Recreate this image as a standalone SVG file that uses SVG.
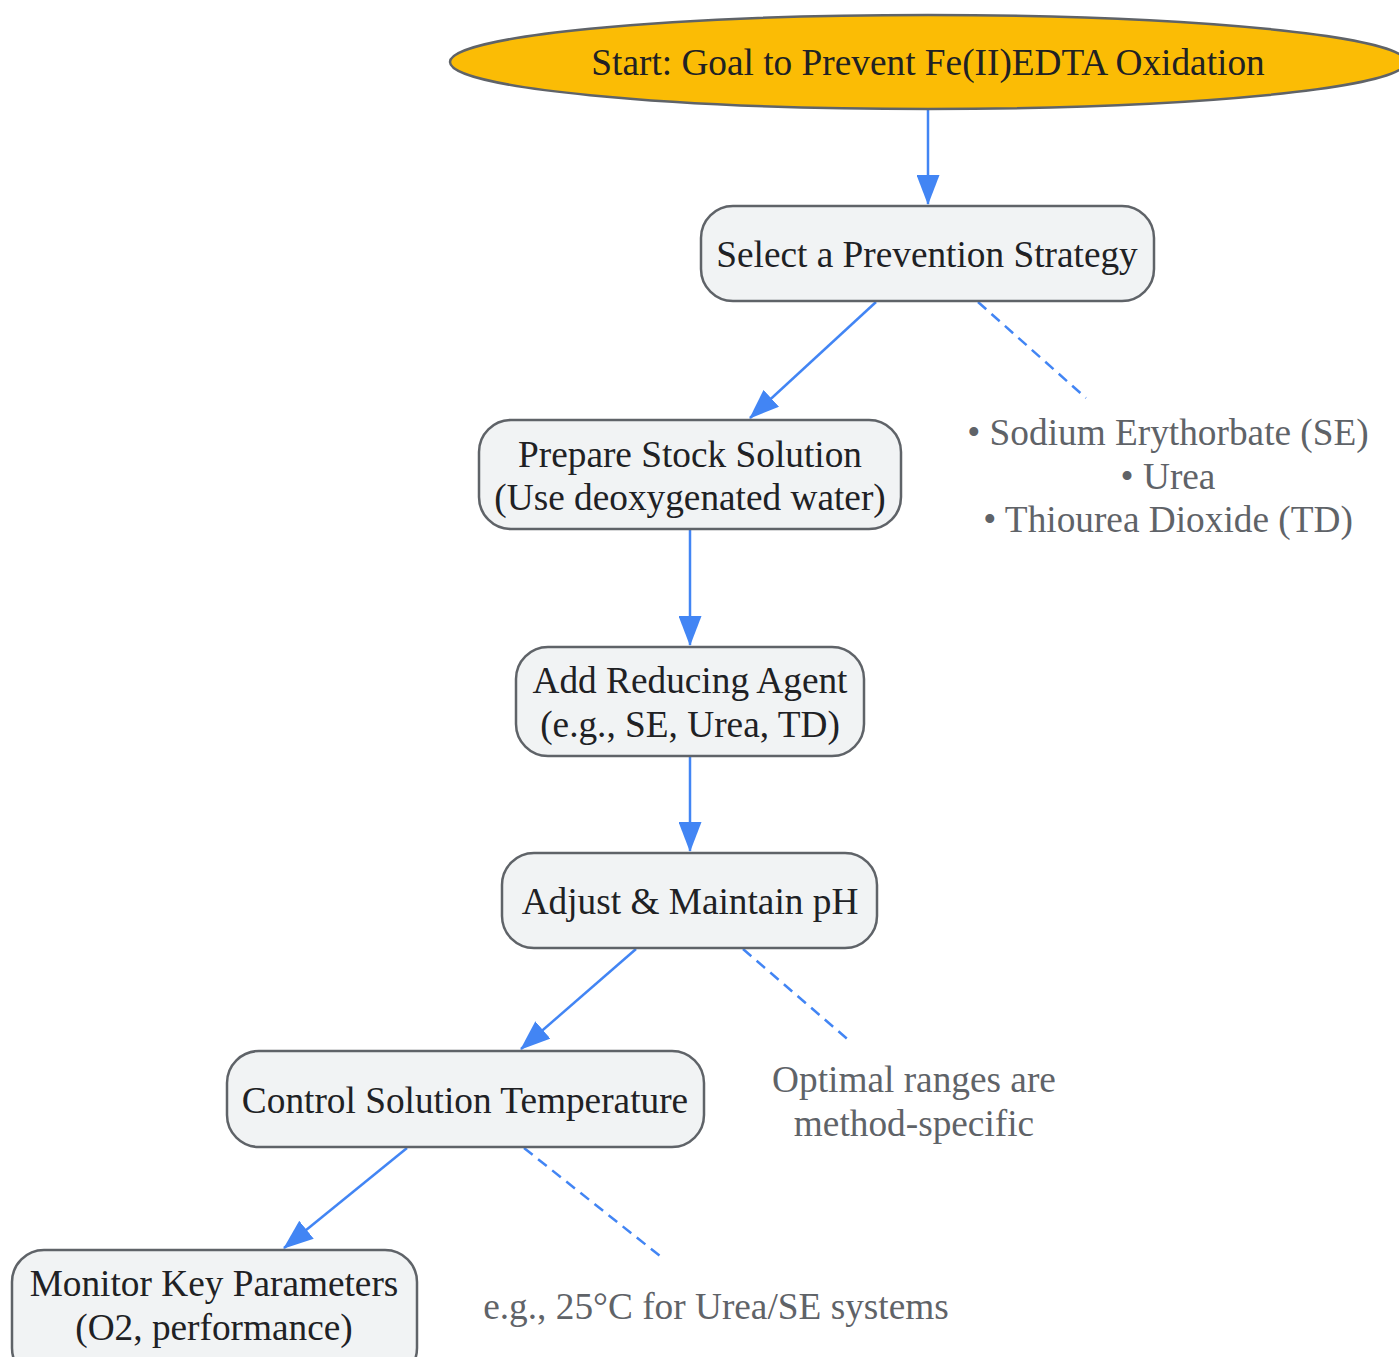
<svg xmlns="http://www.w3.org/2000/svg" width="1399" height="1357" viewBox="0 0 1399 1357">
<defs>
<style>
.node{fill:#f1f3f4;stroke:#5f6368;stroke-width:2.5}
.t{font-family:"Liberation Serif","Times New Roman",serif;font-size:37.3px;fill:#202124;text-anchor:middle}
.note{font-family:"Liberation Serif","Times New Roman",serif;font-size:37.3px;fill:#5f6368;text-anchor:middle}
.e{stroke:#4285f4;stroke-width:2.5;fill:none}
.d{stroke:#4285f4;stroke-width:2.5;fill:none;stroke-dasharray:11,7}
</style>
<marker id="ah" viewBox="0 0 30 23" refX="29" refY="11.5" markerWidth="30" markerHeight="23" orient="auto" markerUnits="userSpaceOnUse">
<path d="M0,0 L30,11.5 L0,23 z" fill="#4285f4"/>
</marker>
</defs>
<rect width="1399" height="1357" fill="#ffffff"/>
<g id="connectors">
<line class="e" x1="928" y1="110" x2="928" y2="204" marker-end="url(#ah)"/>
<line class="e" x1="876" y1="302" x2="750" y2="418" marker-end="url(#ah)"/>
<line class="d" x1="978" y1="302" x2="1086" y2="398"/>
<line class="e" x1="690" y1="530" x2="690" y2="645" marker-end="url(#ah)"/>
<line class="e" x1="690" y1="757" x2="690" y2="851" marker-end="url(#ah)"/>
<line class="e" x1="636" y1="949" x2="521" y2="1049" marker-end="url(#ah)"/>
<line class="d" x1="743" y1="949" x2="852" y2="1043"/>
<line class="e" x1="407" y1="1148" x2="284" y2="1248" marker-end="url(#ah)"/>
<line class="d" x1="524" y1="1148" x2="660" y2="1256"/>
</g>
<g id="start">
<ellipse cx="928" cy="62" rx="478" ry="47" fill="#fbbc05" stroke="#5f6368" stroke-width="2.5"/>
<text class="t" x="928" y="75">Start: Goal to Prevent Fe(II)EDTA Oxidation</text>
</g>
<g id="select">
<rect class="node" x="701" y="206" width="453" height="95" rx="32"/>
<text class="t" x="927" y="267">Select a Prevention Strategy</text>
</g>
<g id="note-agents">
<text class="note" x="1168" y="445">• Sodium Erythorbate (SE)</text>
<text class="note" x="1168" y="489">• Urea</text>
<text class="note" x="1168" y="532">• Thiourea Dioxide (TD)</text>
</g>
<g id="prepare">
<rect class="node" x="479" y="420" width="422" height="109" rx="32"/>
<text class="t" x="690" y="467">Prepare Stock Solution</text>
<text class="t" x="690" y="510">(Use deoxygenated water)</text>
</g>
<g id="reduce">
<rect class="node" x="516" y="647" width="348" height="109" rx="32"/>
<text class="t" x="690" y="693">Add Reducing Agent</text>
<text class="t" x="690" y="737">(e.g., SE, Urea, TD)</text>
</g>
<g id="ph">
<rect class="node" x="502" y="853" width="375" height="95" rx="32"/>
<text class="t" x="690" y="914">Adjust &amp; Maintain pH</text>
</g>
<g id="note-ph">
<text class="note" x="914" y="1092">Optimal ranges are</text>
<text class="note" x="914" y="1136">method-specific</text>
</g>
<g id="temp">
<rect class="node" x="227" y="1051" width="477" height="96" rx="32"/>
<text class="t" x="465" y="1113">Control Solution Temperature</text>
</g>
<g id="note-temp">
<text class="note" x="716" y="1319">e.g., 25°C for Urea/SE systems</text>
</g>
<g id="monitor">
<rect class="node" x="12" y="1250" width="405" height="130" rx="32"/>
<text class="t" x="214" y="1296">Monitor Key Parameters</text>
<text class="t" x="214" y="1340">(O2, performance)</text>
</g>
</svg>
